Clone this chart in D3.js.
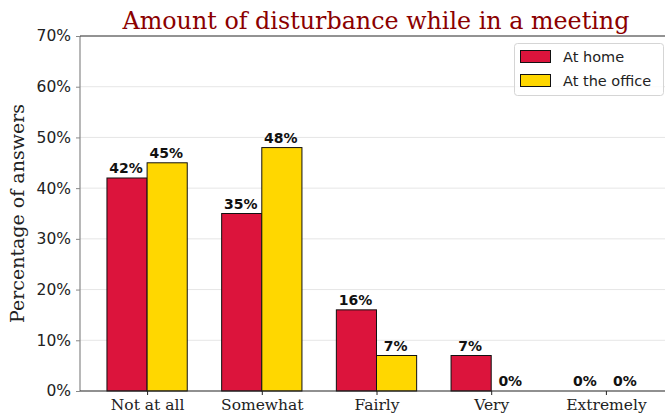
<!DOCTYPE html>
<html><head><meta charset="utf-8">
<script src="https://cdn.jsdelivr.net/npm/d3@7"></script>
<style>html,body{margin:0;padding:0;background:#fff;}svg{display:block;}</style>
</head><body>
<svg id="c" width="665" height="416"></svg>
<script>
const categories = ["Not at all", "Somewhat", "Fairly", "Very", "Extremely"];
const seriesNames = ["At home", "At the office"];
const homeValues = [42, 35, 16, 7, 0];
const officeValues = [45, 48, 7, 0, 0];
const yTicks = [0, 10, 20, 30, 40, 50, 60, 70];
const colors = ["#DC143C", "#FFD700"];

const svg = d3.select("#c");
const L = 80, R = 673, T = 36, B = 391;
const barW = 0.35;
const x = d3.scaleLinear().domain([-0.585, categories.length - 1 + 0.585]).range([L, R]);
const y = d3.scaleLinear().domain([0, 70]).range([B, T]);

// grid
svg.append("g").selectAll("line").data(yTicks.slice(1)).join("line")
  .attr("x1", L).attr("x2", R).attr("y1", d => y(d)).attr("y2", d => y(d))
  .attr("stroke", "#e6e6e6").attr("stroke-width", 1);

const series = [homeValues, officeValues];
series.forEach((vals, si) => {
  const off = si === 0 ? -barW : 0;
  const g = svg.append("g");
  g.selectAll("rect").data(vals).join("rect")
    .attr("x", (d, i) => x(i + off))
    .attr("width", x(barW) - x(0))
    .attr("y", d => y(d))
    .attr("height", d => y(0) - y(d))
    .attr("fill", colors[si]).attr("stroke", "#111").attr("stroke-width", 1);
  g.selectAll("text").data(vals).join("text")
    .attr("x", (d, i) => x(i + off + barW / 2) - 1)
    .attr("y", d => y(d) - 5)
    .attr("text-anchor", "middle")
    .attr("font-family", "DejaVu Sans").attr("font-weight", "bold").attr("font-size", 14)
    .attr("fill", "#111")
    .text(d => d + "%");
});

// spines
svg.append("line").attr("x1", L).attr("x2", L).attr("y1", T).attr("y2", B).attr("stroke", "#888").attr("stroke-width", 1.2);
svg.append("line").attr("x1", L).attr("x2", R).attr("y1", T).attr("y2", T).attr("stroke", "#333").attr("stroke-width", 1);
svg.append("line").attr("x1", L).attr("x2", R).attr("y1", B).attr("y2", B).attr("stroke", "#222").attr("stroke-width", 1.2);

// y axis
const ya = svg.append("g").attr("transform", `translate(${L},0)`)
  .call(d3.axisLeft(y).tickValues(yTicks).tickFormat(d => d + "%").tickSize(4).tickPadding(5));
ya.select(".domain").remove();
ya.selectAll(".tick line").attr("stroke", "#888");
ya.selectAll(".tick text").attr("font-family", "DejaVu Sans").attr("font-size", 15.5).attr("fill", "#222");

// x axis
const xa = svg.append("g").attr("transform", `translate(0,${B})`)
  .call(d3.axisBottom(x).tickValues(d3.range(categories.length)).tickFormat(i => categories[i]).tickSize(4).tickPadding(4));
xa.select(".domain").remove();
xa.selectAll(".tick line").attr("stroke", "#222");
xa.selectAll(".tick text").attr("font-family", "DejaVu Serif").attr("font-size", 15.5).attr("fill", "#222");

// title
svg.append("text").attr("x", 376).attr("y", 29).attr("text-anchor", "middle")
  .attr("font-family", "DejaVu Serif").attr("font-size", 23.8).attr("fill", "#8B0000")
  .text("Amount of disturbance while in a meeting");

// y label
svg.append("text").attr("transform", `translate(24,${(T + B) / 2}) rotate(-90)`).attr("text-anchor", "middle")
  .attr("font-family", "DejaVu Serif").attr("font-size", 19).attr("fill", "#222")
  .text("Percentage of answers");

// legend
const lg = svg.append("g");
lg.append("rect").attr("x", 514.5).attr("y", 43.5).attr("width", 149).attr("height", 52).attr("rx", 3)
  .attr("fill", "#fff").attr("fill-opacity", 0.8).attr("stroke", "#d5d5d5");
seriesNames.forEach((n, i) => {
  lg.append("rect").attr("x", 520.5).attr("y", 50.5 + i * 24).attr("width", 30).attr("height", 12)
    .attr("fill", colors[i]).attr("stroke", "#111");
  lg.append("text").attr("x", 563).attr("y", 62 + i * 24)
    .attr("font-family", "DejaVu Sans").attr("font-size", 14.5).attr("fill", "#222").text(n);
});
</script>
</body></html>
